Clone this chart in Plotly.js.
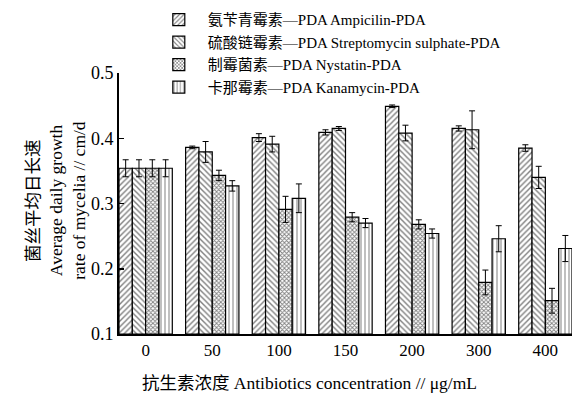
<!DOCTYPE html>
<html>
<head>
<meta charset="utf-8">
<script src="https://cdn.plot.ly/plotly-3.0.1.min.js"></script>
<style>html,body{margin:0;padding:0;background:#fff;}#chart{width:585px;height:400px;}</style>
</head>
<body>
<div id="chart"></div>
<script>
const categories = ["0", "50", "100", "150", "200", "300", "400"];
const seriesNames = [
  "氨苄青霉素—PDA Ampicilin-PDA",
  "硫酸链霉素—PDA Streptomycin sulphate-PDA",
  "制霉菌素—PDA Nystatin-PDA",
  "卡那霉素—PDA Kanamycin-PDA"
];
const ampicilin = [0.354, 0.386, 0.401, 0.409, 0.449, 0.415, 0.385];
const ampicilinErr = [0.013, 0.002, 0.006, 0.004, 0.002, 0.004, 0.005];
const streptomycin = [0.354, 0.379, 0.391, 0.415, 0.408, 0.413, 0.340];
const streptomycinErr = [0.013, 0.016, 0.012, 0.003, 0.012, 0.029, 0.017];
const nystatin = [0.354, 0.343, 0.291, 0.279, 0.268, 0.179, 0.151];
const nystatinErr = [0.013, 0.008, 0.020, 0.007, 0.007, 0.019, 0.019];
const kanamycin = [0.354, 0.327, 0.308, 0.270, 0.254, 0.246, 0.231];
const kanamycinErr = [0.013, 0.008, 0.022, 0.007, 0.007, 0.020, 0.020];
const yTicks = [0.1, 0.2, 0.3, 0.4, 0.5];
const yTitleLines = ["菌丝平均日长速", "Average daily growth", "rate of mycelia // cm/d"];
const xTitle = "抗生素浓度 Antibiotics concentration // μg/mL";

const values = [ampicilin, streptomycin, nystatin, kanamycin];
const errs = [ampicilinErr, streptomycinErr, nystatinErr, kanamycinErr];
const patterns = [
  {shape: "/", size: 4, solidity: 0.35},
  {shape: "\\", size: 4, solidity: 0.35},
  {shape: "x", size: 3, solidity: 0.5},
  {shape: "|", size: 4, solidity: 0.25}
];
const F = "Liberation Serif, Noto Sans CJK SC, serif";
const BASE = 0.1;

const traces = values.map((v, i) => ({
  type: "bar",
  name: seriesNames[i],
  x: categories,
  y: v.map(d => d - BASE),
  base: BASE,
  hoverinfo: "skip",
  error_y: {type: "data", array: errs[i], visible: true, color: "#000", thickness: 1, width: 3},
  marker: {
    color: "#fff",
    line: {color: "#000", width: 1.2},
    pattern: Object.assign({fgcolor: "#000", bgcolor: "#fff", fillmode: "overlay"}, patterns[i])
  }
}));

const yTitleX = [-0.19, -0.139, -0.089];
const annotations = yTitleLines.map((t, i) => ({
  xref: "paper", yref: "paper", x: yTitleX[i], y: 0.513, xanchor: "center", yanchor: "middle",
  textangle: -90, showarrow: false, text: t,
  font: {family: F, size: 17.5, color: "#000"}
}));
annotations.push({
  xref: "paper", yref: "paper", x: 0.42, y: -0.188, xanchor: "center", yanchor: "middle",
  showarrow: false, text: xTitle,
  font: {family: F, size: 17.5, color: "#000"}
});

const layout = {
  width: 585, height: 400,
  margin: {l: 119, r: 13, t: 73, b: 66, autoexpand: false},
  paper_bgcolor: "#fff", plot_bgcolor: "#fff",
  barmode: "group", bargap: 0.2, bargroupgap: 0,
  font: {family: F, color: "#000", size: 16},
  xaxis: {
    type: "category", range: [-0.4, 6.4],
    showline: true, linecolor: "#000", linewidth: 2,
    ticks: "", showgrid: false, zeroline: false,
    tickfont: {family: F, size: 17, color: "#000"}
  },
  yaxis: {
    range: [0.1, 0.5], tickvals: yTicks, ticktext: yTicks.map(v => v.toFixed(1)),
    showline: true, linecolor: "#000", linewidth: 2,
    ticks: "inside", ticklen: 5, tickwidth: 1.5, tickcolor: "#000",
    showgrid: false, zeroline: false,
    tickfont: {family: F, size: 18, color: "#000"}
  },
  showlegend: true,
  legend: {
    x: 0.068, xanchor: "left", y: 1.267, yanchor: "top",
    font: {family: F, size: 15, color: "#000"},
    bgcolor: "rgba(0,0,0,0)", itemwidth: 48, tracegroupgap: 0,
    traceorder: "normal"
  },
  annotations: annotations
};

Plotly.newPlot("chart", traces, layout, {staticPlot: true, displayModeBar: false});
</script>
</body>
</html>
